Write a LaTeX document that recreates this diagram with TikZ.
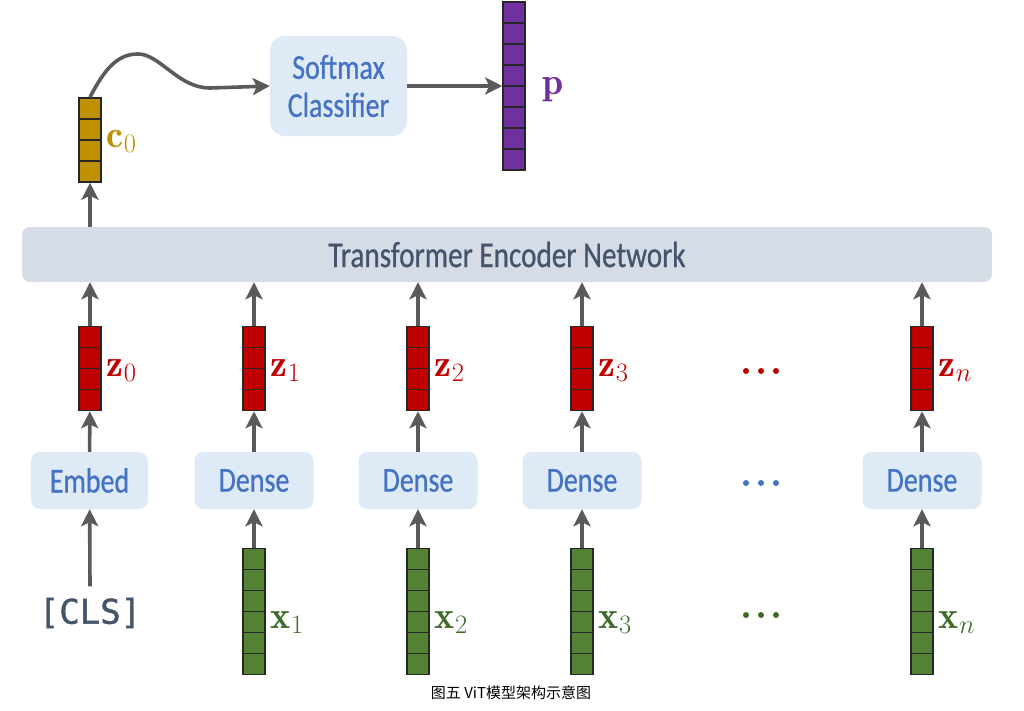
\RequirePackage{fix-cm}
\documentclass[tikz,border=0pt]{standalone}
\usepackage{fontspec}
\newfontfamily\boxfont[FakeStretch=0.8,FakeBold=0.6]{Carlito}
\newfontfamily\clsfont[FakeBold=1.2]{DejaVu Sans Mono}
\newfontfamily\cjkfont{Noto Sans CJK SC}
\usetikzlibrary{arrows.meta,positioning,calc}

\definecolor{zred}{HTML}{C00000}
\definecolor{xgreen}{HTML}{548235}
\definecolor{xlabel}{HTML}{3F6B2A}
\definecolor{cgold}{HTML}{BF9000}
\definecolor{ppurple}{HTML}{7030A0}
\definecolor{boxfill}{HTML}{DEEAF6}
\definecolor{boxtext}{HTML}{4472C4}
\definecolor{barfill}{HTML}{D6DCE5}
\definecolor{bartext}{HTML}{44546A}
\definecolor{arrowgray}{HTML}{5A5A5A}
\definecolor{cellline}{HTML}{262626}

\begin{document}
\begin{tikzpicture}[
    x=1pt,y=-1pt,
    arrow/.style={line width=3.6pt,draw=arrowgray,-{Stealth[length=17pt,width=17pt,inset=4pt]}},
    block/.style={rectangle,rounded corners=9pt,fill=boxfill,text=boxtext,font=\boxfont\fontsize{35}{38}\selectfont,minimum width=119pt,minimum height=57pt,inner sep=0pt,align=center},
    vecbox/.style={rectangle,draw=cellline,line width=1.5pt,minimum width=22pt,inner sep=0pt},
    cells/.style={minimum height=#1*21pt,
        path picture={\foreach \k in {1,...,#1}
            \draw[cellline,line width=1.2pt]
              ($(path picture bounding box.north west)!{\k/#1}!(path picture bounding box.south west)$) --
              ($(path picture bounding box.north east)!{\k/#1}!(path picture bounding box.south east)$);}},
    lbl/.style={anchor=base west,inner sep=0pt,font=\fontsize{38}{40}\selectfont}
]
    \useasboundingbox (0,0) rectangle (1024,710);

    \node[rectangle,rounded corners=8pt,fill=barfill,text=bartext,minimum width=970pt,minimum height=55pt,
          font=\boxfont\fontsize{36.5}{38}\selectfont] (bar) at (507,254.5) {Transformer Encoder Network};

    % output side
    \node[vecbox,cells=4,fill=cgold] (c0) at (90,140) {};
    \node[lbl,text=cgold] (c0l) at ($(c0.east)+(5,7)$) {$\mathbf{c}_0$};
    \node[block,minimum width=137pt,minimum height=100pt,rounded corners=15pt] (smax) at (338.5,86) {Softmax\\Classifier};
    \node[vecbox,cells=8,fill=ppurple] (p) at (514,86) {};
    \node[lbl,text=ppurple] (pl) at ($(p.east)+(17,8)$) {$\mathbf{p}$};

    \draw[arrow] (bar.north -| c0.south) -- (c0);
    \draw[arrow] (c0.north) .. controls (105,68) and (118,54) .. (138,54)
        .. controls (160,54) and (178,88) .. (210,88) -- (smax.west);
    \draw[arrow] (smax) -- (p);

    % token columns
    \foreach \cx/\i in {90/0,254/1,418/2,582/3,922/n} {
        \node[vecbox,cells=4,fill=zred] (z\i) at (\cx,368.5) {};
        \node[lbl,text=zred] (zl\i) at ($(z\i.east)+(5,7.5)$) {$\mathbf{z}_{\i}$};
        \draw[arrow] (z\i) -- (z\i |- bar.south);
    }
    \node[block,minimum width=117pt] (emb) at (89.5,480.5) {Embed};
    \draw[arrow] (emb) -- (z0);
    \node[font=\clsfont\fontsize{34}{36}\selectfont,text=bartext] (cls) at (90,613) {[CLS]};
    \draw[arrow] ($(cls.north)+(0,-8)$) -- (emb);

    \foreach \cx/\i in {254/1,418/2,582/3,922/n} {
        \node[block] (d\i) at (\cx,480.5) {Dense};
        \node[vecbox,cells=6,fill=xgreen] (x\i) at (\cx,611.5) {};
        \node[lbl,text=xlabel] (xl\i) at ($(x\i.east)+(5,16.5)$) {$\mathbf{x}_{\i}$};
        \draw[arrow] (x\i) -- (d\i);
        \draw[arrow] (d\i) -- (z\i);
    }

    % ellipses
    \foreach \dx in {746,761,776} {
        \fill[zred] (\dx,371) circle (3);
        \fill[boxtext] (\dx,483) circle (3);
        \fill[xlabel] (\dx,615) circle (3);
    }

    \node[font=\cjkfont\fontsize{15}{16}\selectfont] (cap) at (511,693) {图五 ViT模型架构示意图};
\end{tikzpicture}
\end{document}
